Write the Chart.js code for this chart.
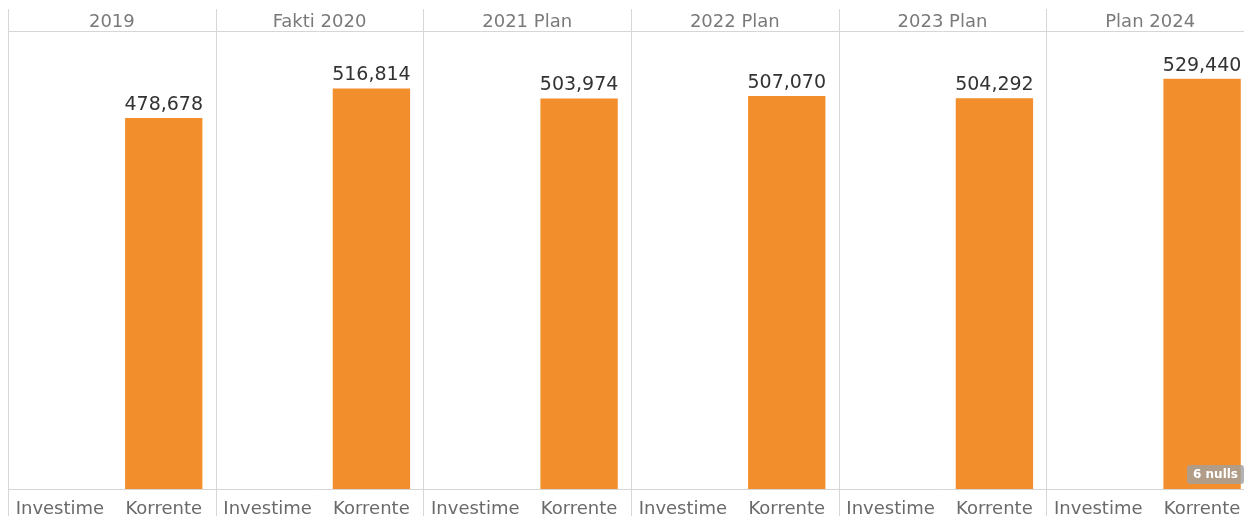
<!DOCTYPE html>
<html>
<head>
<meta charset="utf-8">
<script src="https://cdn.jsdelivr.net/npm/chart.js@4"></script>
<style>
  html, body { margin: 0; padding: 0; background: #fff; overflow: hidden; }
  #wrap { position: relative; width: 1256px; height: 516px; }
</style>
</head>
<body>
<div id="wrap"><canvas id="budgetChart"></canvas></div>
<script>
// panels (column headers) and the two categories in each panel
const panels = ['2019', 'Fakti 2020', '2021 Plan', '2022 Plan', '2023 Plan', 'Plan 2024'];
const categories = ['Investime', 'Korrente'];

// values per panel
const investimeValues = [null, null, null, null, null, null];
const korrenteValues = [478678, 516814, 503974, 507070, 504292, 529440];

const nullCount = 6;

// flatten into the x labels and one data array
const xLabels = [];
const barValues = [];
panels.forEach((p, i) => {
    xLabels.push(categories[0]);
    barValues.push(investimeValues[i]);
    xLabels.push(categories[1]);
    barValues.push(korrenteValues[i]);
});

const lineColor = '#d6d6d6';
const fontFamily = '"DejaVu Sans"';

// headers, panel separators, value labels and the nulls badge
const panelPlugin = {
    id: 'panelPlugin',
    afterDraw(chart) {
        const ctx = chart.ctx;
        const area = chart.chartArea;
        const xScale = chart.scales.x;
        const band = (xScale.right - xScale.left) / xLabels.length;

        ctx.save();
        ctx.strokeStyle = lineColor;
        ctx.lineWidth = 1;

        // header line and baseline
        ctx.beginPath();
        ctx.moveTo(area.left, area.top + 0.5);
        ctx.lineTo(area.right, area.top + 0.5);
        ctx.moveTo(area.left, area.bottom + 0.5);
        ctx.lineTo(area.right, area.bottom + 0.5);
        ctx.stroke();

        // vertical separators
        panels.forEach((p, i) => {
            const x = Math.round(xScale.getPixelForValue(i * 2) - band / 2) + 0.5;
            ctx.beginPath();
            ctx.moveTo(x, 9);
            ctx.lineTo(x, chart.height);
            ctx.stroke();
        });

        // headers
        ctx.fillStyle = '#7a7a7a';
        ctx.font = '18px ' + fontFamily;
        ctx.textAlign = 'center';
        ctx.textBaseline = 'alphabetic';
        panels.forEach((p, i) => {
            const x = xScale.getPixelForValue(i * 2) + band / 2;
            ctx.fillText(p, x, 27);
        });

        // value labels
        ctx.fillStyle = '#333';
        ctx.font = '19px ' + fontFamily;
        chart.getDatasetMeta(0).data.forEach((bar, i) => {
            const v = barValues[i];
            if (v === null) return;
            ctx.fillText(v.toLocaleString('en-US'), bar.x, bar.y - 8);
        });

        // nulls badge
        const text = nullCount + ' nulls';
        ctx.font = 'bold 12px ' + fontFamily;
        const w = ctx.measureText(text).width + 12;
        const bx = 1244 - w;
        const by = area.bottom - 24;
        ctx.fillStyle = 'rgba(160, 160, 160, 0.8)';
        ctx.beginPath();
        ctx.roundRect(bx, by, w, 19, 3);
        ctx.fill();
        ctx.fillStyle = '#fff';
        ctx.textAlign = 'left';
        ctx.textBaseline = 'middle';
        ctx.fillText(text, bx + 6, by + 10);

        ctx.restore();
    }
};

const budgetCtx = document.getElementById('budgetChart');
new Chart(budgetCtx, {
    type: 'bar',
    data: {
        labels: xLabels,
        datasets: [{
            data: barValues,
            backgroundColor: '#f28e2b',
            barPercentage: 0.745,
            categoryPercentage: 1.0
        }]
    },
    options: {
        responsive: true,
        maintainAspectRatio: false,
        animation: false,
        layout: { padding: { top: 31, left: 8, right: 2, bottom: 0 } },
        scales: {
            x: {
                grid: { display: false, drawTicks: false },
                border: { display: false },
                ticks: {
                    color: '#6a6a6a',
                    font: { family: 'DejaVu Sans', size: 18 },
                    padding: 10,
                    maxRotation: 0,
                    autoSkip: false
                },
                afterFit: (scale) => { scale.height = 27; }
            },
            y: {
                display: false,
                min: 0,
                max: 591000
            }
        },
        plugins: {
            legend: { display: false },
            tooltip: { enabled: false }
        }
    },
    plugins: [panelPlugin]
});
</script>
</body>
</html>
